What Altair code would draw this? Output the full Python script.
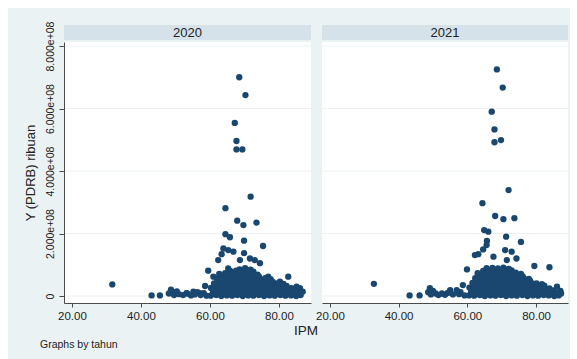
import altair as alt
import pandas as pd

years = ["2020", "2021"]
x_ticks = [20, 40, 60, 80]
y_ticks = [0, 2e8, 4e8, 6e8, 8e8]

# ---- 2020 ----
ipm_2020 = [
    # upper points
    68.5, 70.3, 67.2, 67.7, 67.7, 69.4, 71.8, 64.5, 67.9, 69.7, 73.5, 64.5, 65.8,
    69.9, 75.4, 63.9, 65.3, 66.8, 63.4, 69.9, 71.6, 73.0, 74.5, 62.4, 68.7, 59.5,
    82.7, 61.0, 80.3, 85.1, 86.1,
    # low tail
    31.7, 43.1, 45.5, 48.1, 48.7, 49.3, 49.6, 50.4, 51.0, 52.2, 53.2, 53.4, 54.5,
    55.2, 55.6, 56.4, 57.1, 57.3, 58.2, 58.6, 59.0,
    # dense mass
    60.2, 61.8, 63.3, 64.9, 66.4, 68.0, 69.5, 71.1, 72.6, 74.2, 75.7, 77.3, 78.8,
    80.4, 81.9, 83.5, 85.0, 86.3,
    61.0, 62.6, 64.1, 65.7, 67.2, 68.8, 70.3, 71.9, 73.4, 75.0, 76.5, 78.1, 79.6,
    81.2, 82.7, 84.3, 85.8,
    60.9, 62.5, 64.1, 65.6, 67.2, 68.8, 70.3, 71.9, 73.4, 75.0, 76.5, 78.1, 79.6,
    81.2, 82.7, 84.2, 85.8, 86.9,
    61.6, 63.2, 64.7, 66.3, 67.8, 69.4, 70.9, 72.5, 74.0, 75.6, 77.1, 78.7, 80.2,
    81.8, 83.3, 84.8,
    60.3, 61.9, 63.4, 65.0, 66.5, 68.1, 69.6, 71.2, 72.7, 74.3, 75.8, 77.4, 78.9,
    80.5, 82.0, 83.6,
    62.0, 63.6, 65.1, 66.7, 68.2, 69.8, 71.3, 72.9, 74.4, 76.0, 77.5, 79.1, 80.6, 82.2,
    61.2, 62.8, 64.3, 65.9, 67.4, 69.0, 70.5, 72.1, 73.6, 75.2, 76.7, 78.3, 79.8, 81.3,
    62.5, 64.1, 65.6, 67.2, 68.7, 70.3, 71.8, 73.4, 74.9, 76.5, 78.0,
    62.0, 63.6, 65.1, 66.7, 68.2, 69.8, 71.3, 72.9, 74.4, 76.0, 77.6,
    63.3, 64.9, 66.5, 68.0, 69.6, 71.1, 72.7, 74.2,
    62.7, 64.4, 66.0, 67.5, 69.1, 70.6, 72.2, 73.8, 76.9,
    65.9, 67.6, 69.3, 71.0, 72.6,
    65.3, 68.6, 70.2, 71.8,
]
pdrb_2020 = [
    7.00e8, 6.43e8, 5.54e8, 4.96e8, 4.69e8, 4.69e8, 3.18e8, 2.81e8, 2.41e8, 2.27e8,
    2.35e8, 1.98e8, 1.88e8, 1.77e8, 1.60e8, 1.52e8, 1.47e8, 1.42e8, 1.34e8, 1.37e8,
    1.20e8, 1.15e8, 1.05e8, 1.15e8, 1.15e8, 0.81e8, 0.62e8, 0.62e8, 0.46e8, 0.30e8,
    0.25e8,
    0.37e8, 0.02e8, 0.02e8, 0.08e8, 0.20e8, 0.12e8, 0.03e8, 0.15e8, 0.06e8, 0.03e8,
    0.09e8, 0.08e8, 0.02e8, 0.14e8, 0.05e8, 0.12e8, 0.09e8, 0.03e8, 0.09e8, 0.32e8,
    0.01e8,
    0.01e8, 0.03e8, 0.00e8, 0.02e8, 0.01e8, 0.03e8, 0.00e8, 0.02e8, 0.01e8, 0.03e8,
    0.00e8, 0.02e8, 0.01e8, 0.03e8, 0.01e8, 0.02e8, 0.00e8, 0.03e8,
    0.07e8, 0.06e8, 0.08e8, 0.07e8, 0.06e8, 0.08e8, 0.07e8, 0.06e8, 0.08e8, 0.07e8,
    0.06e8, 0.08e8, 0.07e8, 0.06e8, 0.08e8, 0.07e8, 0.06e8,
    0.12e8, 0.14e8, 0.11e8, 0.15e8, 0.13e8, 0.12e8, 0.14e8, 0.11e8, 0.15e8, 0.13e8,
    0.12e8, 0.14e8, 0.11e8, 0.13e8, 0.15e8, 0.12e8, 0.10e8, 0.14e8,
    0.20e8, 0.21e8, 0.19e8, 0.22e8, 0.20e8, 0.21e8, 0.19e8, 0.22e8, 0.20e8, 0.21e8,
    0.19e8, 0.20e8, 0.22e8, 0.19e8, 0.20e8, 0.18e8,
    0.26e8, 0.29e8, 0.25e8, 0.28e8, 0.27e8, 0.30e8, 0.26e8, 0.28e8, 0.25e8, 0.29e8,
    0.27e8, 0.26e8, 0.28e8, 0.24e8, 0.27e8, 0.25e8,
    0.34e8, 0.36e8, 0.35e8, 0.33e8, 0.36e8, 0.34e8, 0.35e8, 0.37e8, 0.34e8, 0.35e8,
    0.33e8, 0.36e8, 0.34e8, 0.32e8,
    0.40e8, 0.43e8, 0.41e8, 0.44e8, 0.42e8, 0.40e8, 0.45e8, 0.41e8, 0.43e8, 0.42e8,
    0.40e8, 0.44e8, 0.41e8, 0.39e8,
    0.49e8, 0.51e8, 0.50e8, 0.52e8, 0.49e8, 0.51e8, 0.50e8, 0.48e8, 0.51e8, 0.50e8,
    0.47e8,
    0.56e8, 0.58e8, 0.55e8, 0.59e8, 0.57e8, 0.60e8, 0.56e8, 0.58e8, 0.55e8, 0.57e8,
    0.54e8,
    0.64e8, 0.66e8, 0.65e8, 0.67e8, 0.64e8, 0.66e8, 0.65e8, 0.63e8,
    0.71e8, 0.73e8, 0.70e8, 0.74e8, 0.72e8, 0.75e8, 0.71e8, 0.68e8, 0.62e8,
    0.80e8, 0.81e8, 0.79e8, 0.82e8, 0.78e8,
    0.88e8, 0.85e8, 0.89e8, 0.84e8,
]

# ---- 2021 ----
ipm_2021 = [
    # upper points
    68.6, 70.3, 67.1, 67.9, 67.9, 69.8, 72.0, 64.4, 68.1, 70.5, 73.7, 64.9, 66.1,
    71.3, 65.7, 75.6, 65.6, 64.6, 63.2, 62.2, 71.0, 72.9, 74.3, 67.6, 71.5, 59.9,
    79.5, 83.9, 86.1, 87.1,
    # low tail
    32.8, 43.2, 46.1, 48.6, 49.1, 49.4, 50.0, 50.8, 51.6, 52.6, 53.5, 54.3, 55.0,
    55.8, 56.9, 57.6, 58.0, 58.7, 59.2,
    # dense mass
    60.5, 62.0, 63.6, 65.1, 66.7, 68.2, 69.8, 71.3, 72.9, 74.4, 76.0, 77.5, 79.1,
    80.6, 82.2, 83.7, 85.3, 86.6,
    61.3, 62.8, 64.4, 65.9, 67.5, 69.0, 70.6, 72.1, 73.7, 75.2, 76.8, 78.3, 79.9,
    81.4, 83.0, 84.5, 86.0,
    61.1, 62.7, 64.3, 65.8, 67.4, 68.9, 70.5, 72.0, 73.6, 75.1, 76.7, 78.2, 79.8,
    81.3, 82.9, 84.4, 85.9, 87.3,
    61.8, 63.4, 64.9, 66.5, 68.0, 69.6, 71.1, 72.7, 74.2, 75.8, 77.3, 78.9, 80.4,
    82.0, 83.5, 85.0,
    60.6, 62.2, 63.7, 65.3, 66.8, 68.4, 69.9, 71.5, 73.0, 74.6, 76.1, 77.7, 79.2,
    80.8, 82.3, 83.9,
    62.3, 63.9, 65.4, 67.0, 68.5, 70.1, 71.6, 73.2, 74.7, 76.3, 77.8, 79.4, 80.9, 82.4,
    61.5, 63.1, 64.6, 66.2, 67.7, 69.3, 70.8, 72.4, 73.9, 75.5, 77.0, 78.6, 80.1, 81.7,
    62.8, 64.4, 65.9, 67.5, 69.0, 70.6, 72.1, 73.7, 75.2, 76.8, 78.3,
    62.3, 63.9, 65.4, 67.0, 68.5, 70.1, 71.6, 73.2, 74.7, 76.3, 77.9,
    63.6, 65.2, 66.8, 68.3, 69.9, 71.4, 73.0, 74.5, 76.1,
    63.0, 64.7, 66.3, 67.8, 69.4, 70.9, 72.5, 74.1, 75.6,
    64.6, 66.3, 68.0, 69.7, 71.3, 72.9,
    65.6, 67.3, 68.9, 70.5, 72.1,
]
pdrb_2021 = [
    7.25e8, 6.67e8, 5.90e8, 5.33e8, 4.92e8, 4.99e8, 3.39e8, 2.97e8, 2.56e8, 2.46e8,
    2.49e8, 2.11e8, 2.06e8, 1.90e8, 1.76e8, 1.73e8, 1.63e8, 1.49e8, 1.34e8, 1.31e8,
    1.47e8, 1.42e8, 1.20e8, 1.26e8, 1.15e8, 0.85e8, 0.96e8, 0.92e8, 0.30e8, 0.16e8,
    0.39e8, 0.02e8, 0.02e8, 0.12e8, 0.25e8, 0.05e8, 0.16e8, 0.08e8, 0.03e8, 0.08e8,
    0.04e8, 0.10e8, 0.19e8, 0.05e8, 0.19e8, 0.06e8, 0.12e8, 0.35e8, 0.02e8,
    0.02e8, 0.01e8, 0.03e8, 0.00e8, 0.02e8, 0.01e8, 0.03e8, 0.00e8, 0.02e8, 0.01e8,
    0.03e8, 0.00e8, 0.02e8, 0.01e8, 0.03e8, 0.02e8, 0.00e8, 0.02e8,
    0.07e8, 0.08e8, 0.06e8, 0.07e8, 0.08e8, 0.06e8, 0.07e8, 0.08e8, 0.06e8, 0.07e8,
    0.08e8, 0.06e8, 0.07e8, 0.08e8, 0.06e8, 0.07e8, 0.05e8,
    0.13e8, 0.15e8, 0.12e8, 0.14e8, 0.13e8, 0.16e8, 0.12e8, 0.14e8, 0.13e8, 0.15e8,
    0.12e8, 0.14e8, 0.13e8, 0.12e8, 0.15e8, 0.13e8, 0.11e8, 0.08e8,
    0.21e8, 0.20e8, 0.22e8, 0.21e8, 0.20e8, 0.23e8, 0.21e8, 0.20e8, 0.22e8, 0.21e8,
    0.20e8, 0.22e8, 0.21e8, 0.19e8, 0.20e8, 0.18e8,
    0.27e8, 0.29e8, 0.26e8, 0.30e8, 0.28e8, 0.27e8, 0.31e8, 0.26e8, 0.29e8, 0.28e8,
    0.26e8, 0.29e8, 0.27e8, 0.25e8, 0.28e8, 0.24e8,
    0.35e8, 0.37e8, 0.36e8, 0.34e8, 0.37e8, 0.35e8, 0.36e8, 0.38e8, 0.35e8, 0.36e8,
    0.34e8, 0.37e8, 0.35e8, 0.33e8,
    0.42e8, 0.44e8, 0.41e8, 0.45e8, 0.43e8, 0.46e8, 0.42e8, 0.44e8, 0.41e8, 0.43e8,
    0.45e8, 0.42e8, 0.40e8, 0.38e8,
    0.50e8, 0.52e8, 0.51e8, 0.53e8, 0.50e8, 0.52e8, 0.51e8, 0.49e8, 0.52e8, 0.51e8,
    0.48e8,
    0.57e8, 0.60e8, 0.58e8, 0.61e8, 0.59e8, 0.62e8, 0.58e8, 0.60e8, 0.57e8, 0.59e8,
    0.55e8,
    0.66e8, 0.68e8, 0.67e8, 0.69e8, 0.66e8, 0.68e8, 0.67e8, 0.65e8, 0.63e8,
    0.73e8, 0.75e8, 0.72e8, 0.76e8, 0.74e8, 0.77e8, 0.73e8, 0.75e8, 0.71e8,
    0.80e8, 0.82e8, 0.83e8, 0.81e8, 0.84e8, 0.82e8,
    0.89e8, 0.90e8, 0.88e8, 0.91e8, 0.87e8,
]

NAVY = "#1A476F"
BG = "#EAF2F3"
STRIP = "#D5E2EA"
GRID = "#ECF2F3"
AXIS = "#4a4a4a"
TXT = "#222222"
FONT = "Liberation Sans"

X_DOMAIN = [17.7, 89.3]
Y_DOMAIN = [-0.224e8, 8.128e8]
H = 261


def panel(year, ipm, pdrb, width, first, bg_left, bg_right):
    df = pd.DataFrame({"IPM": ipm, "Y": pdrb})
    one = pd.DataFrame({"year": [year]})
    xs = alt.Scale(domain=X_DOMAIN, nice=False, zero=False)
    ys = alt.Scale(domain=Y_DOMAIN, nice=False, zero=False)

    xaxis = alt.Axis(values=x_ticks, format=".2f", title=None, grid=False,
                     domainColor=AXIS, tickColor=AXIS, tickSize=4,
                     labelPadding=3, labelFont=FONT, labelFontSize=11.5,
                     labelColor=TXT, zindex=1, labelFlush=False)
    if first:
        yaxis = alt.Axis(
            values=y_ticks,
            labelExpr="datum.value == 0 ? '0' : replace(format(datum.value, '.3e'), 'e+', 'e+0')",
            labelAngle=270, labelAlign="center", labelBaseline="bottom",
            tickSize=5, labelPadding=4, grid=False, domainColor=AXIS,
            tickColor=AXIS, labelFont=FONT, labelFontSize=10.5, labelColor=TXT,
            title="Y (PDRB) ribuan", titleFont=FONT, titleFontSize=13,
            titleFontWeight="normal", titleColor=TXT, titlePadding=8,
            zindex=1, labelFlush=False, labelOverlap=False)
    else:
        yaxis = None

    bgrect = alt.Chart(one).mark_rect(color=BG).encode(
        x=alt.value(bg_left), x2=alt.value(bg_right),
        y=alt.value(-34), y2=alt.value(317))
    white = alt.Chart(one).mark_rect(color="white").encode(
        x=alt.value(0), x2=alt.value(width), y=alt.value(0), y2=alt.value(H))
    grid = alt.Chart(pd.DataFrame({"Y": y_ticks})).mark_rule(
        color=GRID, strokeWidth=1).encode(
        y=alt.Y("Y:Q", scale=ys, axis=yaxis),
        x=alt.value(0), x2=alt.value(width))
    strip = alt.Chart(one).mark_rect(color=STRIP).encode(
        x=alt.value(0), x2=alt.value(width), y=alt.value(-17), y2=alt.value(-2))
    strip_txt = alt.Chart(one).mark_text(
        font=FONT, fontSize=13, color=TXT, baseline="middle").encode(
        x=alt.value(width / 2), y=alt.value(-9.5), text="year:N")

    pts = alt.Chart(df).mark_circle(size=40, opacity=1, color=NAVY).encode(
        x=alt.X("IPM:Q", scale=xs, axis=xaxis),
        y=alt.Y("Y:Q", scale=ys, axis=yaxis))

    layers = [bgrect, white, grid, strip, strip_txt, pts]
    if first:
        xt = alt.Chart(pd.DataFrame({"t": ["IPM"]})).mark_text(
            font=FONT, fontSize=13.5, color=TXT, baseline="middle").encode(
            x=alt.value(242), y=alt.value(289), text="t:N")
        note = alt.Chart(pd.DataFrame({"t": ["Graphs by tahun"]})).mark_text(
            font=FONT, fontSize=10.5, color=TXT, align="left",
            baseline="middle").encode(
            x=alt.value(-24), y=alt.value(302.5), text="t:N")
        layers += [xt, note]
    return alt.layer(*layers).properties(width=width, height=H)


p1 = panel(years[0], ipm_2020, pdrb_2020, 247, True, -56, 258)
p2 = panel(years[1], ipm_2021, pdrb_2021, 246, False, 0, 248)

chart = alt.hconcat(p1, p2, spacing=11, bounds="flush").properties(
    padding={"left": 8, "top": 8, "right": 7, "bottom": 0},
    background="white",
).configure_view(stroke=None)

chart.save("out.html", embed_options={"renderer": "svg", "actions": False})
